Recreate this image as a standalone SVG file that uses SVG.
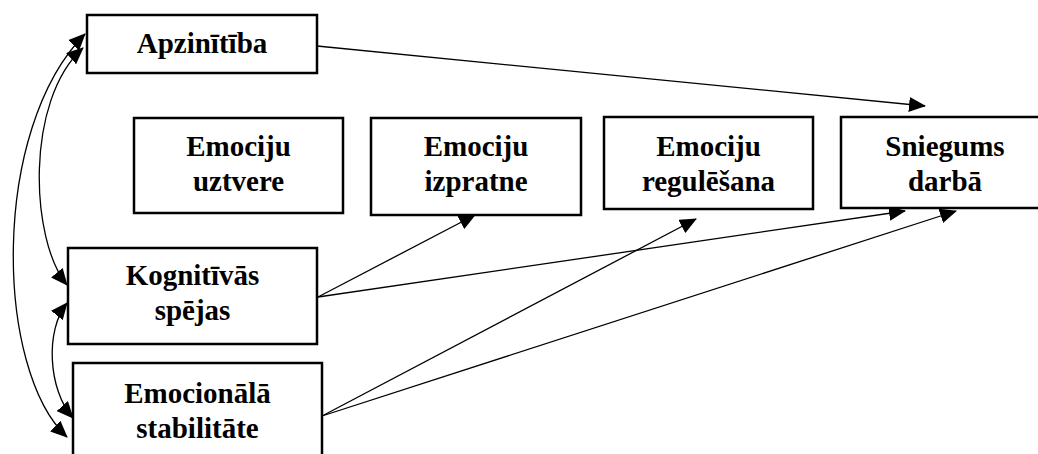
<svg xmlns="http://www.w3.org/2000/svg" width="1038" height="454" viewBox="0 0 1038 454">
  <style>
    .box { fill: #fff; stroke: #000; stroke-width: 2.5; }
    .lbl { font-family: "Liberation Serif", "Times New Roman", serif; font-weight: bold; font-size: 29px; fill: #000; text-anchor: middle; }
    .conn { fill: none; stroke: #000; stroke-width: 1.3; }
  </style>
  <defs>
    <marker id="ah" markerUnits="userSpaceOnUse" markerWidth="17" markerHeight="15" refX="16" refY="7.5" orient="auto-start-reverse" viewBox="0 0 17 15">
      <path d="M0,0 L17,7.5 L0,15 Z" fill="#000"/>
    </marker>
  </defs>
  <rect width="1038" height="454" fill="#fff"/>

  <g id="connectors">
    <line class="conn" x1="317" y1="46" x2="925" y2="106" marker-end="url(#ah)"/>
    <line class="conn" x1="318" y1="297" x2="475" y2="215" marker-end="url(#ah)"/>
    <line class="conn" x1="318" y1="297" x2="905" y2="211" marker-end="url(#ah)"/>
    <line class="conn" x1="322" y1="416" x2="696" y2="219" marker-end="url(#ah)"/>
    <line class="conn" x1="322" y1="416" x2="956" y2="211" marker-end="url(#ah)"/>
    <path class="conn" d="M67,437 C-5,370 -10,130 85,34" marker-start="url(#ah)" marker-end="url(#ah)"/>
    <path class="conn" d="M67,285 C30,240 25,100 83,48" marker-start="url(#ah)" marker-end="url(#ah)"/>
    <path class="conn" d="M73,418 C48,390 45,330 67,303" marker-start="url(#ah)" marker-end="url(#ah)"/>
  </g>

  <g id="apzinitiba">
    <rect class="box" x="87" y="15" width="230" height="58"/>
    <text class="lbl" x="202" y="53">Apzinītība</text>
  </g>
  <g id="emociju-uztvere">
    <rect class="box" x="134" y="118" width="209" height="95"/>
    <text class="lbl" x="238.5" y="156">Emociju</text>
    <text class="lbl" x="238.5" y="191">uztvere</text>
  </g>
  <g id="emociju-izpratne">
    <rect class="box" x="371" y="118" width="210" height="97"/>
    <text class="lbl" x="476" y="156">Emociju</text>
    <text class="lbl" x="476" y="191">izpratne</text>
  </g>
  <g id="emociju-regulesana">
    <rect class="box" x="604" y="117" width="209" height="92"/>
    <text class="lbl" x="708.5" y="156">Emociju</text>
    <text class="lbl" x="708.5" y="191">regulēšana</text>
  </g>
  <g id="sniegums-darba">
    <rect class="box" x="841" y="117" width="210" height="91"/>
    <text class="lbl" x="945" y="156">Sniegums</text>
    <text class="lbl" x="945" y="191">darbā</text>
  </g>
  <g id="kognitivas-spejas">
    <rect class="box" x="68" y="248" width="249" height="96"/>
    <text class="lbl" x="192.5" y="285">Kognitīvās</text>
    <text class="lbl" x="192.5" y="320">spējas</text>
  </g>
  <g id="emocionala-stabilitate">
    <rect class="box" x="73" y="363" width="249" height="100"/>
    <text class="lbl" x="197.5" y="403">Emocionālā</text>
    <text class="lbl" x="197.5" y="438">stabilitāte</text>
  </g>
</svg>
